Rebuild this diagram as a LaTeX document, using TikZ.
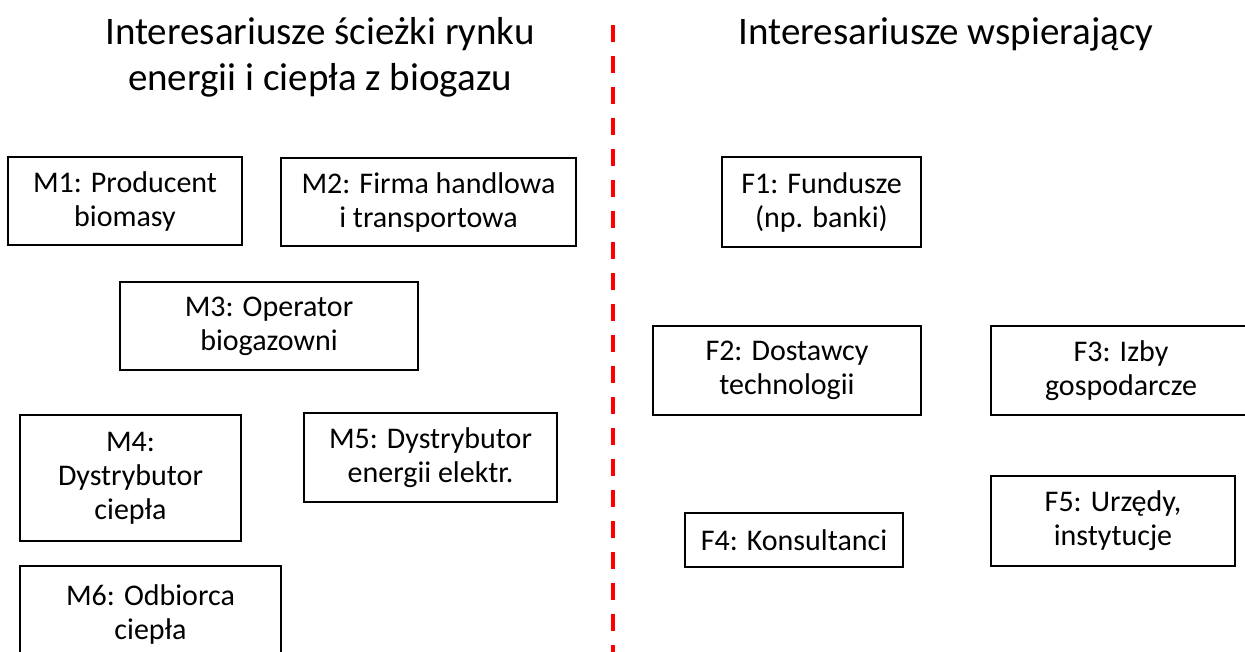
\documentclass[tikz,border=0pt]{standalone}
\usepackage{fontspec}
\setmainfont{Carlito}
\usetikzlibrary{positioning, calc}

\begin{document}
\begin{tikzpicture}[x=1pt, y=-1pt,
  box/.style={draw=black, line width=1.3pt, align=center, inner sep=0pt,
              font=\fontsize{30}{34}\selectfont},
  heading/.style={align=center, font=\fontsize{39}{46}\selectfont},
  divider/.style={red, line width=3.5pt, dash pattern=on 17pt off 14pt}]
  \useasboundingbox (0,0) rectangle (1245,651);

  % headings
  \node [heading] (T_market) at (320,57) {Interesariusze ścieżki rynku\\energii i ciepła z biogazu};
  \node [heading] (T_support) at (946,34) {Interesariusze wspierający};

  % dividing line
  \coordinate (div_top) at (613,25);
  \coordinate (div_bottom) at (613,660);
  \draw [divider] (div_top) -- (div_bottom);

  % market path
  \node [box, minimum width=234, minimum height=88] (M1) at (125,201) {M1: Producent\\biomasy};
  \node [box, minimum width=295, minimum height=88] (M2) at (428.5,202) {M2: Firma handlowa\\i transportowa};
  \node [box, minimum width=298, minimum height=88] (M3) at (269,326) {M3: Operator\\biogazowni};
  \node [box, minimum width=221, minimum height=126] (M4) at (130.5,478) {M4:\\Dystrybutor\\ciepła};
  \node [box, minimum width=253, minimum height=89] (M5) at (430.5,457.5) {M5: Dystrybutor\\energii elektr.};
  \node [box, minimum width=261, minimum height=96] (M6) at (150.5,614) {M6: Odbiorca\\ciepła};

  % supporting
  \node [box, minimum width=199, minimum height=90] (F1) at (821.5,202) {F1: Fundusze\\(np. banki)};
  \node [box, minimum width=268, minimum height=89] (F2) at (787,370.5) {F2: Dostawcy\\technologii};
  \node [box, minimum width=260, minimum height=89] (F3) at (1121,370.5) {F3: Izby\\gospodarcze};
  \node [box, minimum width=218, minimum height=54] (F4) at (794,540) {F4: Konsultanci};
  \node [box, minimum width=244, minimum height=90] (F5) at (1113,521) {F5: Urzędy,\\instytucje};
\end{tikzpicture}
\end{document}
